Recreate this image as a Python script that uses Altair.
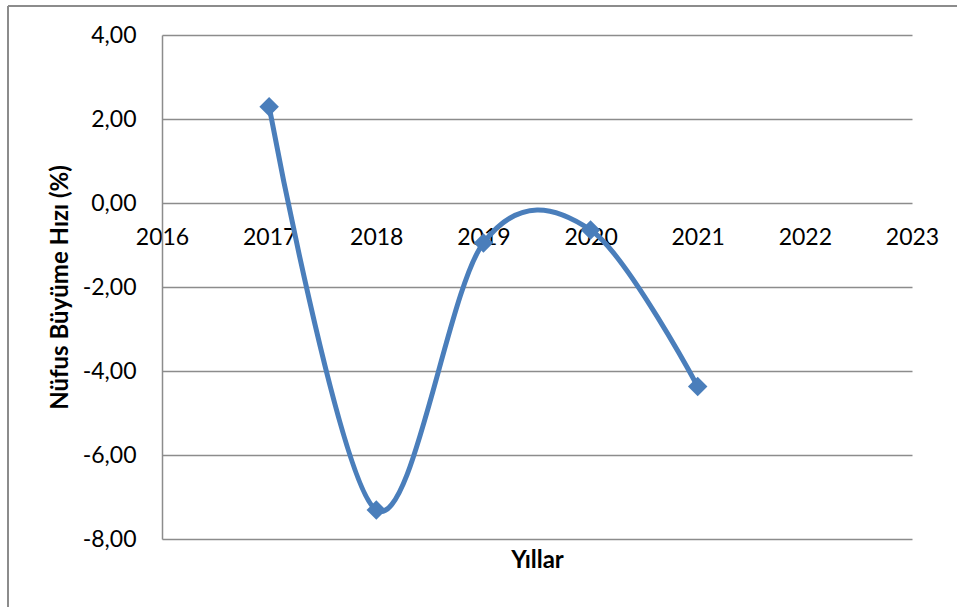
import altair as alt
import pandas as pd

# Annual population growth rate (%)
years = [2017, 2018, 2019, 2020, 2021]
growth = [2.29, -7.31, -0.95, -0.64, -4.37]

x_ticks = [2016, 2017, 2018, 2019, 2020, 2021, 2022, 2023]
y_ticks = [-8, -6, -4, -2, 0, 2, 4]

df = pd.DataFrame({"Yil": years, "Hiz": growth})

LINE_BLUE = "#4A7EBB"
GRID = "#8C8C8C"
FONT = "Lato"

PLOT_W, PLOT_H = 750, 504
PAD_L, PAD_T = 162, 35

x_enc = alt.X(
    "Yil:Q",
    scale=alt.Scale(domain=[2016, 2023], nice=False, zero=False),
    axis=alt.Axis(
        title="Yıllar",
        values=x_ticks,
        labelExpr="toString(datum.value)",
        labelFlush=False,
        labelOverlap=False,
        grid=False,
        domain=False,
        ticks=False,
        labelPadding=24,
        labelFontSize=23,
        labelFont=FONT,
        labelColor="#000000",
        offset=-337,
        titleFont=FONT,
        titleFontSize=24,
        titleFontWeight="bold",
        titleColor="#000000",
        titleY=358,
        titleBaseline="middle",
    ),
)

y_enc = alt.Y(
    "Hiz:Q",
    scale=alt.Scale(domain=[-8, 4], nice=False, zero=False),
    axis=alt.Axis(
        title="Nüfus Büyüme Hızı (%)",
        values=y_ticks,
        labelExpr="(datum.value < 0 ? '-' : '') + replace(format(abs(datum.value), '.2f'), '.', ',')",
        labelFlush=False,
        labelOverlap=False,
        grid=True,
        gridColor=GRID,
        gridWidth=1.5,
        gridOpacity=1,
        domain=True,
        domainColor=GRID,
        domainWidth=1.5,
        ticks=False,
        labelPadding=26,
        labelFontSize=23,
        labelFont=FONT,
        labelColor="#000000",
        titleFont=FONT,
        titleFontSize=24,
        titleFontWeight="bold",
        titleColor="#000000",
        titleX=-102,
        titleY=PLOT_H / 2,
        titleBaseline="middle",
        titleAngle=270,
    ),
)

line = alt.Chart(df).mark_line(
    interpolate="cardinal", color=LINE_BLUE, strokeWidth=5, strokeCap="round"
).encode(x=x_enc, y=y_enc)

points = alt.Chart(df).mark_point(
    shape="diamond", filled=True, size=380, color=LINE_BLUE, opacity=1
).encode(x="Yil:Q", y="Hiz:Q")

# Outer frame around the chart area
frame_top = alt.Chart(df).mark_rule(color=GRID, strokeWidth=1.5).encode(
    x=alt.value(8 - PAD_L), x2=alt.value(957 - PAD_L), y=alt.value(6 - PAD_T)
)
frame_left = alt.Chart(df).mark_rule(color=GRID, strokeWidth=1.5).encode(
    x=alt.value(8 - PAD_L), y=alt.value(6 - PAD_T), y2=alt.value(607 - PAD_T)
)

chart = (
    alt.layer(frame_top, frame_left, line, points)
    .properties(
        width=PLOT_W,
        height=PLOT_H,
        autosize=alt.AutoSizeParams(type="none"),
        padding={"left": PAD_L, "top": PAD_T, "right": 957 - PAD_L - PLOT_W, "bottom": 607 - PAD_T - PLOT_H},
        background="#FFFFFF",
    )
    .configure_view(stroke=None)
)

chart.save("out.html", embed_options={"renderer": "svg", "actions": False})
